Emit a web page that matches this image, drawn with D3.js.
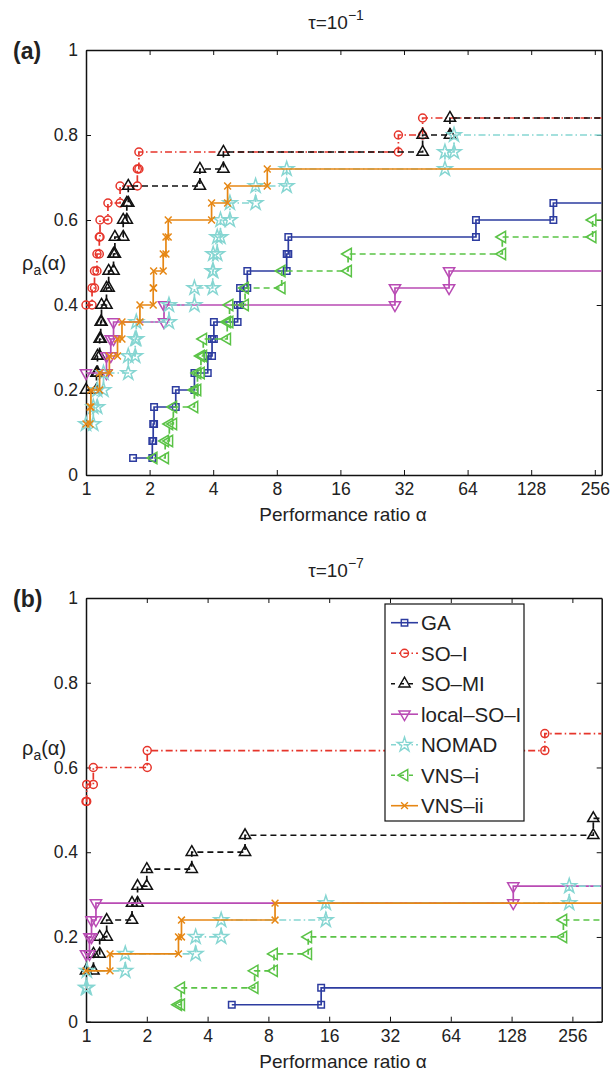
<!DOCTYPE html>
<html>
<head>
<meta charset="utf-8">
<script src="https://cdn.jsdelivr.net/npm/d3@7"></script>
<style>
  body { margin: 0; background: #fff; }
  svg text { font-family: "Liberation Sans", Arial, sans-serif; fill: #222; }
</style>
</head>
<body>
<svg id="chart" width="611" height="1075"></svg>
<script>
// Performance profiles, 25 test problems, two tolerances tau

var seriesNames = ["GA", "SO–I", "SO–MI", "local–SO–I", "NOMAD", "VNS–i", "VNS–ii"];
var xTickValues = [1, 2, 4, 8, 16, 32, 64, 128, 256];
var yTickValues = [0, 0.2, 0.4, 0.6, 0.8, 1];
var nProblems = 25;

// sorted performance ratios of the solved problems, tau = 1e-1
var gaA    = [1.67, 2.06, 2.08, 2.10, 2.66, 3.26, 3.77, 3.95, 4.03, 5.22, 5.36, 5.8, 8.91, 9.07, 70.1, 163];
var soiA   = [1, 1, 1, 1, 1, 1, 1, 1, 1, 1, 1.068, 1.097, 1.127, 1.156, 1.165, 1.27, 1.45, 1.75, 1.78, 30.1, 39.2];
var somiA  = [1, 1, 1, 1, 1, 1.121, 1.133, 1.16, 1.174, 1.184, 1.25, 1.28, 1.35, 1.37, 1.50, 1.56, 1.585, 3.46, 4.47, 39.2, 52.8];
var localA = [1, 1, 1, 1, 1, 1, 1.25, 1.31, 1.35, 2.34, 29.0, 52.3];
var nomadA = [1, 1, 1, 1.083, 1.13, 1.21, 1.585, 1.71, 1.73, 2.47, 3.26, 3.98, 4.0, 4.18, 4.33, 4.8, 6.35, 8.91, 50, 55.2];
var vnsiA  = [2.09, 2.37, 2.48, 2.59, 3.26, 3.37, 3.5, 3.59, 4.66, 4.78, 5.66, 8.44, 17.4, 93.4, 250];
var vnsiiA = [1, 1, 1, 1.045, 1.055, 1.16, 1.29, 1.41, 1.48, 1.80, 2.08, 2.09, 2.32, 2.39, 2.45, 3.93, 4.68, 7.21];

// tau = 1e-7
var gaB    = [5.27, 14.6];
var soiB   = [1, 1, 1, 1, 1, 1, 1, 1, 1, 1, 1, 1, 1, 1.008, 1.087, 2.01, 187];
var somiB  = [1, 1, 1, 1.089, 1.169, 1.266, 1.69, 1.80, 2.0, 3.34, 6.13, 325];
var localB = [1, 1, 1, 1, 1.04, 1.065, 1.12, 130.5];
var nomadB = [1, 1, 1.01, 1.565, 3.49, 4.67, 15.4, 247];
var vnsiB  = [2.86, 2.96, 6.84, 8.53, 12.6, 231];
var vnsiiB = [1, 1, 1, 1.315, 2.87, 2.97, 8.63];

// styles for each series (same order as seriesNames)
var styles = [
  { color: "#2d3ca0", dash: null,          symbol: d3.symbolSquare,   size: 42, rot: 0 },
  { color: "#e6352b", dash: "7,3,1.5,3",   symbol: d3.symbolCircle,   size: 50, rot: 0 },
  { color: "#111111", dash: "6,4",         symbol: d3.symbolTriangle, size: 55, rot: 0 },
  { color: "#b94bb4", dash: null,          symbol: d3.symbolTriangle, size: 55, rot: 180 },
  { color: "#86d6d2", dash: "7,3,1.5,3",   symbol: d3.symbolStar,     size: 65, rot: 0 },
  { color: "#5ac346", dash: "6,4",         symbol: d3.symbolTriangle, size: 55, rot: -90 },
  { color: "#e68714", dash: null,          symbol: d3.symbolX,        size: 32, rot: 0 }
];

var svg = d3.select("#chart");

// turn sorted ratios into stair vertices (ties collapse into one step)
function stairPoints(ratios, xmax) {
  var steps = [];
  ratios.forEach(function(r, i) {
    var y = (i + 1) / nProblems;
    if (steps.length && steps[steps.length - 1].x === r) steps[steps.length - 1].y = y;
    else steps.push({ x: r, y: y });
  });
  var pts = [];
  steps.forEach(function(s, j) {
    if (j > 0) pts.push({ x: s.x, y: steps[j - 1].y, m: true });
    pts.push({ x: s.x, y: s.y, m: true });
  });
  pts.push({ x: xmax, y: steps[steps.length - 1].y, m: false });
  return pts;
}

function drawPanel(cfg) {
  var left = 86, right = 601.7;
  var x = d3.scaleLog().base(2).domain([1, cfg.xmax]).range([left, right]);
  var y = d3.scaleLinear().domain([0, 1]).range([cfg.bottom, cfg.top]);

  var g = svg.append("g");

  // clip for the lines
  g.append("clipPath").attr("id", cfg.id + "clip")
    .append("rect")
    .attr("x", left).attr("y", cfg.top)
    .attr("width", right - left).attr("height", cfg.bottom - cfg.top);

  // axes: ticks pointing inward on all four sides
  var bottomAxis = d3.axisBottom(x).tickValues(xTickValues).tickFormat(d3.format("d"))
    .tickSizeInner(-5).tickSizeOuter(0).tickPadding(8);
  var topAxis = d3.axisTop(x).tickValues(xTickValues).tickFormat("")
    .tickSizeInner(-5).tickSizeOuter(0);
  var leftAxis = d3.axisLeft(y).tickValues(yTickValues).tickFormat(function(d) { return d3.format("~g")(d); })
    .tickSizeInner(-5).tickSizeOuter(0).tickPadding(8);
  var rightAxis = d3.axisRight(y).tickValues(yTickValues).tickFormat("")
    .tickSizeInner(-5).tickSizeOuter(0);

  var gb = g.append("g").attr("transform", "translate(0," + cfg.bottom + ")").call(bottomAxis);
  var gt = g.append("g").attr("transform", "translate(0," + cfg.top + ")").call(topAxis);
  var gl = g.append("g").attr("transform", "translate(" + left + ",0)").call(leftAxis);
  var gr = g.append("g").attr("transform", "translate(" + right + ",0)").call(rightAxis);

  [gb, gt, gl, gr].forEach(function(a) {
    a.attr("font-family", null).attr("font-size", null);
    a.select(".domain").attr("stroke", "#111").attr("stroke-width", 1.5);
    a.selectAll(".tick line").attr("stroke", "#111").attr("stroke-width", 1);
    a.selectAll(".tick text").style("font-size", "17.5px").attr("fill", "#222");
  });

  // series
  var line = d3.line().x(function(d) { return x(d.x); }).y(function(d) { return y(d.y); });

  cfg.data.forEach(function(ratios, i) {
    var st = styles[i];
    var pts = stairPoints(ratios, cfg.xmax);

    g.append("path")
      .datum(pts)
      .attr("clip-path", "url(#" + cfg.id + "clip)")
      .attr("d", line)
      .attr("fill", "none")
      .attr("stroke", st.color)
      .attr("stroke-width", 1.7)
      .attr("stroke-dasharray", st.dash);

    g.selectAll(null)
      .data(pts.filter(function(d) { return d.m && d.x <= cfg.xmax; }))
      .enter()
      .append("path")
      .attr("transform", function(d) { return "translate(" + x(d.x) + "," + y(d.y) + ") rotate(" + st.rot + ")"; })
      .attr("d", d3.symbol().type(st.symbol).size(st.size))
      .attr("fill", "none")
      .attr("stroke", st.color)
      .attr("stroke-width", 1.5);
  });

  // title
  var title = g.append("text")
    .attr("x", 336).attr("y", cfg.top - 21)
    .attr("text-anchor", "middle")
    .style("font-size", "19px");
  title.append("tspan").text("τ=10");
  title.append("tspan").attr("dy", -9).style("font-size", "14px").text(cfg.exponent);

  // panel letter
  g.append("text")
    .attr("x", 13).attr("y", cfg.top + 9)
    .style("font-size", "23px").style("font-weight", "bold")
    .text(cfg.letter);

  // y label
  var yl = g.append("text")
    .attr("x", 22).attr("y", cfg.yLabelY)
    .style("font-size", "20px");
  yl.append("tspan").text("ρ");
  yl.append("tspan").attr("dy", 5).style("font-size", "14px").text("a");
  yl.append("tspan").attr("dy", -5).text("(α)");

  // x label
  g.append("text")
    .attr("x", 343).attr("y", cfg.bottom + 46)
    .attr("text-anchor", "middle")
    .style("font-size", "19px")
    .text("Performance ratio α");

  return { g: g, x: x, y: y };
}

drawPanel({
  id: "pa", top: 50, bottom: 475, xmax: 276, exponent: "−1", letter: "(a)", yLabelY: 270,
  data: [gaA, soiA, somiA, localA, nomadA, vnsiA, vnsiiA]
});

var panelB = drawPanel({
  id: "pb", top: 598, bottom: 1021.7, xmax: 357.6, exponent: "−7", letter: "(b)", yLabelY: 755,
  data: [gaB, soiB, somiB, localB, nomadB, vnsiB, vnsiiB]
});

// legend inside panel (b)
var legend = panelB.g.append("g").attr("transform", "translate(385,604)");
legend.append("rect")
  .attr("width", 139).attr("height", 217)
  .attr("fill", "#fff").attr("stroke", "#111").attr("stroke-width", 1.2);

seriesNames.forEach(function(name, i) {
  var st = styles[i];
  var row = legend.append("g").attr("transform", "translate(0," + (18.7 + i * 30.5) + ")");
  row.append("line")
    .attr("x1", 6).attr("x2", 33)
    .attr("stroke", st.color).attr("stroke-width", 1.6)
    .attr("stroke-dasharray", st.dash ? (st.dash === "6,4" ? "4,5" : "5,3,1.5,3") : null);
  row.append("path")
    .attr("transform", "translate(19.5,0) rotate(" + st.rot + ")")
    .attr("d", d3.symbol().type(st.symbol).size(st.size))
    .attr("fill", "none").attr("stroke", st.color).attr("stroke-width", 1.4);
  row.append("text")
    .attr("x", 36).attr("dy", "0.36em")
    .style("font-size", "20.5px")
    .text(name);
});
</script>
</body>
</html>
